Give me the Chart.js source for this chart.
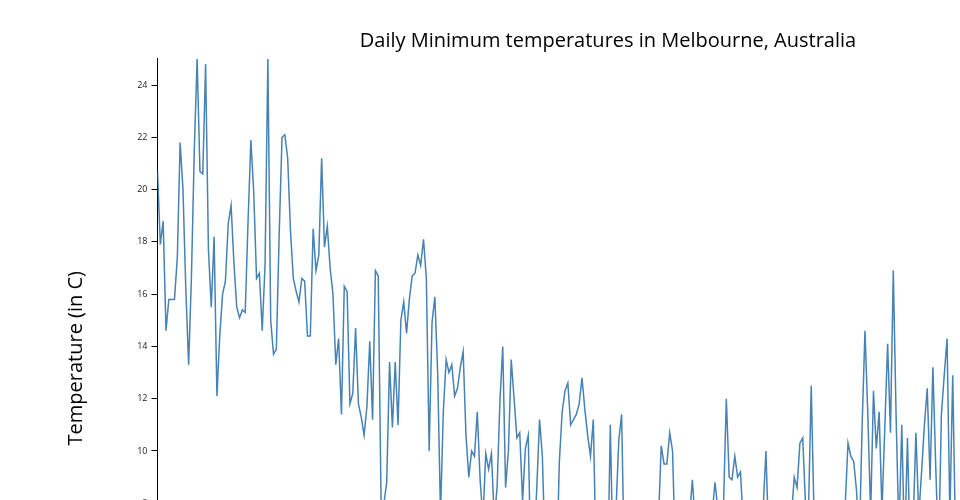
<!DOCTYPE html>
<html>
<head>
<meta charset="utf-8">
<title>Daily Minimum temperatures in Melbourne</title>
<script src="https://cdn.jsdelivr.net/npm/chart.js@4"></script>
<style>
  html, body { margin: 0; padding: 0; overflow: hidden; background: #fff; }
  #wrap { width: 1216px; height: 700px; }
</style>
</head>
<body>
<div id="wrap"><canvas id="tempChart" width="1216" height="700"></canvas></div>
<script>
// daily minimum temperature (deg C), one value per day from 1 January
const janTemps = [20.7, 17.9, 18.8, 14.6, 15.8, 15.8, 15.8, 17.4, 21.8, 20.0, 16.2, 13.3, 16.7, 21.5, 25.0, 20.7,
  20.6, 24.8, 17.7, 15.5, 18.2, 12.1, 14.4, 16.0, 16.5, 18.7, 19.4, 17.2, 15.5, 15.1, 15.4];
const febTemps = [15.3, 18.8, 21.9, 19.9, 16.6, 16.8, 14.6, 17.1, 25.0, 15.0, 13.7, 13.9, 18.3, 22.0, 22.1, 21.2,
  18.4, 16.6, 16.1, 15.7, 16.6, 16.5, 14.4, 14.4, 18.5, 16.9, 17.5, 21.2];
const marTemps = [17.8, 18.6, 17.0, 16.0, 13.3, 14.3, 11.4, 16.3, 16.1, 11.8, 12.2, 14.7, 11.8, 11.3, 10.6, 11.7,
  14.2, 11.2, 16.9, 16.7, 8.1, 8.0, 8.8, 13.4, 10.9, 13.4, 11.0, 15.0, 15.7, 14.5, 15.8];
const aprTemps = [16.7, 16.8, 17.5, 17.1, 18.1, 16.6, 10.0, 14.9, 15.9, 13.0, 7.6, 11.5, 13.5, 13.0, 13.3, 12.1,
  12.4, 13.2, 13.8, 10.6, 9.0, 10.0, 9.8, 11.5, 8.9, 7.4, 9.9, 9.3, 9.9, 7.4];
const mayTemps = [8.6, 11.9, 14.0, 8.6, 10.0, 13.5, 12.0, 10.5, 10.7, 8.1, 10.1, 10.6, 5.3, 6.6, 8.5, 11.2,
  9.8, 5.9, 3.2, 2.1, 3.4, 5.4, 9.6, 11.5, 12.3, 12.6, 11.0, 11.2, 11.4, 11.8, 12.8];
const junTemps = [11.6, 10.6, 9.8, 11.2, 5.7, 7.1, 2.5, 3.5, 4.6, 11.0, 5.7, 7.7, 10.4, 11.4, 5.4, 6.3,
  7.2, 4.9, 3.8, 6.1, 7.4, 4.3, 2.6, 5.2, 6.8, 4.5, 7.3, 10.2, 9.5, 9.5];
const julTemps = [10.7, 10.0, 6.0, 4.8, 6.9, 5.5, 3.7, 7.5, 8.9, 7.3, 6.2, 4.0, 5.8, 7.1, 6.4, 7.6,
  8.8, 7.8, 5.6, 7.9, 12.0, 9.0, 8.9, 9.8, 9.0, 9.2, 7.2, 5.2, 3.1, 4.7, 6.6];
const augTemps = [7.0, 5.4, 7.8, 10.0, 6.5, 4.4, 6.8, 7.7, 5.1, 3.8, 6.0, 7.2, 7.5, 9.0, 8.6, 10.3,
  10.5, 7.9, 7.5, 12.5, 7.5, 5.9, 7.0, 4.2, 6.5, 7.4, 5.0, 3.3, 6.2, 7.6, 5.7];
const sepTemps = [7.9, 10.3, 9.8, 9.6, 8.5, 6.5, 11.0, 14.6, 11.4, 7.6, 12.3, 10.1, 11.5, 7.7, 10.9, 14.1,
  10.7, 16.9, 11.3, 6.8, 11.0, 6.2, 10.5, 6.0, 7.2, 10.7, 7.5, 9.2, 11.0, 12.4];
const octTemps = [8.9, 13.2, 9.4, 6.0, 11.4, 12.9, 14.3, 7.5, 12.9, 6.5, 5.5, 6.9];

const minTemps = [].concat(janTemps, febTemps, marTemps, aprTemps, mayTemps, junTemps,
  julTemps, augTemps, sepTemps, octTemps);

const yTickValues = [4, 6, 8, 10, 12, 14, 16, 18, 20, 22, 24];
const tempRange = [2.1, 25.0];
const dayRange = [0, 364];

Chart.defaults.font.family = "'Open Sans', sans-serif";

const ctx = document.getElementById('tempChart');
new Chart(ctx, {
  type: 'line',
  data: {
    datasets: [{
      data: minTemps.map((t, day) => ({ x: day, y: t })),
      borderColor: '#4682b4',
      borderWidth: 1.5,
      pointRadius: 0,
      tension: 0,
      fill: false
    }]
  },
  options: {
    responsive: false,
    animation: false,
    layout: { padding: { left: 28.4, right: 28.4, top: 0, bottom: 12.5 } },
    plugins: {
      legend: { display: false },
      tooltip: { enabled: false },
      title: {
        display: true,
        text: 'Daily Minimum temperatures in Melbourne, Australia',
        color: '#000',
        font: { size: 20, weight: 'normal' },
        padding: { top: 29, bottom: 5.9 }
      }
    },
    scales: {
      x: {
        type: 'linear',
        min: dayRange[0],
        max: dayRange[1],
        ticks: { display: false },
        grid: { display: false },
        border: { color: '#000' },
        afterFit: s => { s.height = 30; }
      },
      y: {
        min: tempRange[0],
        max: tempRange[1],
        afterBuildTicks: s => { s.ticks = yTickValues.map(v => ({ value: v })); },
        afterFit: s => { s.width = 129.1; },
        ticks: { color: '#222', font: { size: 9 }, padding: 4 },
        grid: { drawOnChartArea: false, tickLength: 6, color: '#000' },
        border: { color: '#000' },
        title: {
          display: true,
          text: 'Temperature (in C)',
          color: '#000',
          font: { size: 20 },
          padding: { top: 35.6 }
        }
      }
    }
  }
});
</script>
</body>
</html>
